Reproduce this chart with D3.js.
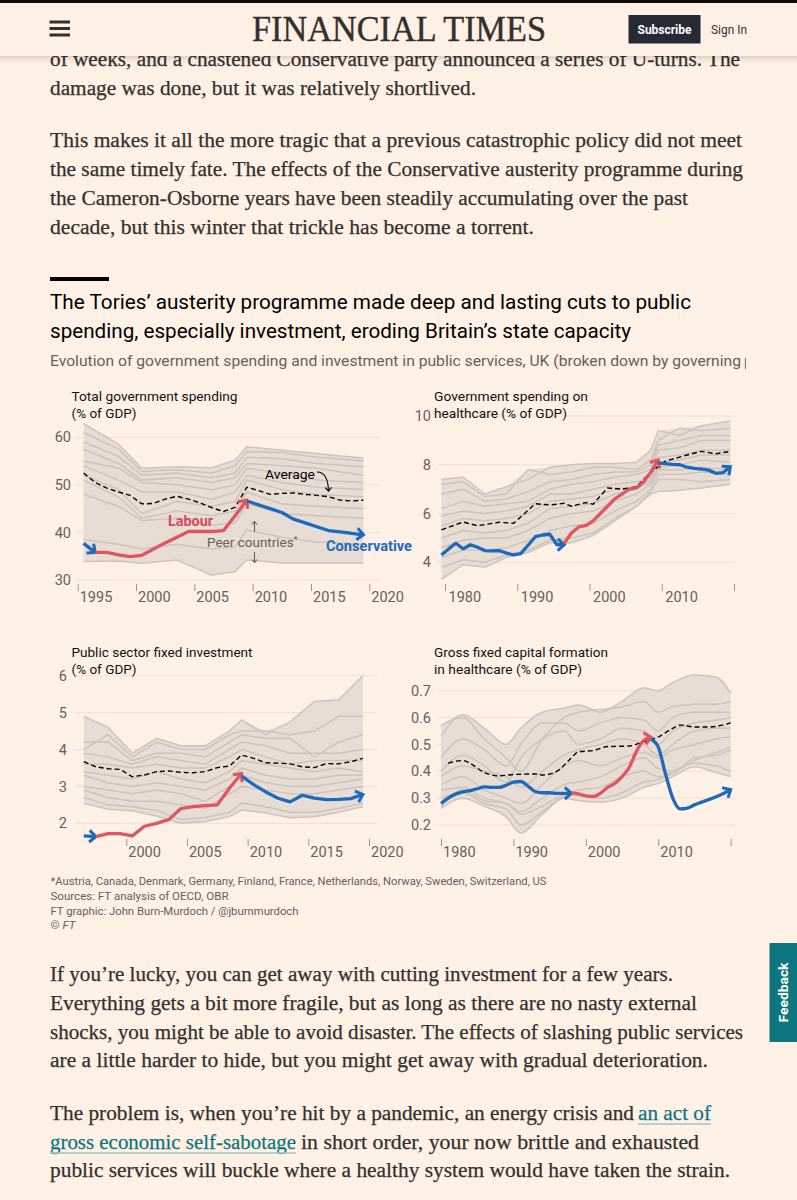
<!DOCTYPE html>
<html><head><meta charset="utf-8">
<script src="https://cdn.jsdelivr.net/npm/d3@7"></script>
<style>html,body{margin:0;padding:0;background:#fff1e5;}svg{display:block}</style>
</head><body>
<svg id="c" width="797" height="1200"></svg>
<script>
// ---------------- DATA ----------------
// Panel 1: Total government spending (% of GDP)
const p1PeerYears = [1995, 1998, 2000, 2003, 2006, 2008, 2009, 2012, 2015, 2019];
const p1Peers = [
  [62.9, 58.5, 53.5, 53.8, 53.6, 55.2, 58.0, 57.3, 56.6, 55.6],
  [61.0, 57.5, 52.8, 53.2, 52.5, 54.0, 57.0, 56.8, 55.8, 55.0],
  [59.0, 56.0, 52.0, 52.5, 51.5, 52.5, 55.8, 55.5, 54.5, 53.8],
  [57.5, 54.5, 51.0, 51.5, 50.5, 51.5, 54.5, 54.0, 53.5, 52.0],
  [55.0, 53.5, 50.5, 50.0, 49.0, 50.0, 53.5, 52.5, 51.0, 50.5],
  [54.0, 51.0, 48.5, 48.5, 47.0, 48.5, 52.0, 50.5, 49.5, 49.0],
  [52.0, 49.0, 44.0, 46.5, 45.5, 46.5, 51.0, 49.0, 48.0, 47.5],
  [51.0, 47.5, 43.0, 44.5, 43.5, 44.5, 48.5, 46.0, 45.5, 45.0],
  [48.0, 45.5, 42.5, 43.0, 41.5, 42.0, 46.0, 44.0, 43.5, 43.0],
  [38.5, 37.5, 36.5, 37.5, 36.5, 37.0, 40.5, 39.0, 38.0, 37.5],
  [33.9, 34.0, 33.5, 34.2, 31.0, 31.8, 34.2, 33.6, 33.6, 33.6]
];
const p1Average = [[1995,52.5],[1996,50.5],[1997,49.3],[1998,48.5],[1999,47.8],[2000,46.0],[2001,46.1],[2002,47.0],[2003,47.6],[2004,47.0],[2005,46.2],[2006,45.2],[2007,44.4],[2008,45.3],[2009,49.5],[2010,48.8],[2011,48.0],[2012,48.2],[2013,48.3],[2014,48.0],[2015,47.8],[2016,47.5],[2017,46.8],[2018,46.6],[2019,46.8]];
const p1ConservativeEarly = [[1995,37.7],[1996,35.8]];
const p1Labour = [[1996,35.8],[1997,35.8],[1998,35.3],[1999,34.9],[2000,35.2],[2001,36.5],[2002,37.8],[2003,39.0],[2004,40.2],[2005,40.2],[2006,40.2],[2007,40.4],[2008,43.5],[2009,46.8]];
const p1ConservativeLate = [[2009,46.6],[2010,45.8],[2011,45.0],[2012,44.2],[2013,42.8],[2014,42.0],[2015,41.2],[2016,40.4],[2017,40.1],[2018,39.8],[2019,39.5]];
const p1YTicks = [30, 40, 50, 60];
const p1XTicks = [1995, 2000, 2005, 2010, 2015, 2020];

// Panel 2: Government spending on healthcare (% of GDP)
const p2PeerYears = [1979, 1982, 1985, 1988, 1991, 1994, 1997, 2000, 2003, 2006, 2008, 2009, 2012, 2015, 2019];
const p2Peers = [
  [7.4, 7.5, 6.8, 7.1, 7.4, 7.9, 8.0, 8.05, 8.05, 8.1, 8.6, 9.4, 9.2, 9.6, 9.8],
  [7.2, 7.3, 6.7, 6.8, 7.8, 7.6, 7.7, 7.9, 7.9, 7.8, 8.2, 9.0, 9.5, 9.4, 9.5],
  [6.8, 7.0, 6.5, 6.6, 6.9, 7.3, 7.4, 7.6, 7.7, 7.7, 8.0, 8.8, 9.0, 9.2, 9.2],
  [6.2, 6.5, 6.3, 6.4, 6.5, 7.0, 7.2, 7.3, 7.5, 7.6, 7.8, 8.6, 8.7, 9.0, 9.0],
  [5.9, 6.1, 6.0, 6.1, 6.3, 6.8, 6.8, 7.0, 7.2, 7.3, 7.5, 8.3, 8.4, 8.6, 8.6],
  [5.5, 5.8, 5.7, 5.8, 6.0, 6.5, 6.6, 6.7, 7.0, 7.1, 7.4, 8.1, 8.2, 8.4, 8.4],
  [5.0, 5.3, 5.2, 5.3, 5.6, 6.2, 6.3, 6.4, 6.8, 7.0, 7.3, 7.9, 8.0, 8.2, 8.1],
  [4.6, 4.9, 5.0, 5.0, 5.3, 5.8, 6.0, 6.1, 6.5, 6.8, 7.2, 7.8, 7.8, 7.9, 7.8],
  [4.2, 4.5, 4.5, 4.6, 4.9, 5.3, 5.5, 5.6, 6.1, 6.5, 7.0, 7.6, 7.6, 7.7, 7.6],
  [3.8, 4.1, 4.0, 4.3, 4.5, 4.9, 5.0, 5.2, 5.8, 6.3, 6.9, 7.4, 7.4, 7.3, 7.4],
  [3.3, 3.9, 3.8, 4.2, 4.4, 4.8, 4.8, 5.1, 5.7, 6.3, 6.8, 6.9, 6.95, 7.05, 7.2]
];
const p2Average = [[1979,5.33],[1982,5.65],[1984,5.5],[1987,5.64],[1989,5.6],[1992,6.4],[1994,6.35],[1996,6.42],[1997,6.3],[1999,6.45],[2000,6.38],[2002,7.05],[2004,7.0],[2006,7.1],[2008,7.7],[2010,8.15],[2013,8.4],[2015,8.55],[2017,8.45],[2019,8.55]];
const p2ConservativeEarly = [[1979,4.3],[1980,4.55],[1981,4.78],[1982,4.55],[1983,4.72],[1984,4.62],[1985,4.48],[1986,4.47],[1987,4.48],[1988,4.38],[1989,4.30],[1990,4.36],[1991,4.70],[1992,5.05],[1993,5.12],[1994,5.15],[1995,4.72],[1996,4.72]];
const p2Labour = [[1996,4.78],[1997,5.2],[1998,5.45],[1999,5.5],[2000,5.7],[2001,6.0],[2002,6.3],[2003,6.6],[2004,6.8],[2005,7.0],[2006,7.05],[2007,7.3],[2008,7.7],[2009,8.2]];
const p2ConservativeLate = [[2009,8.08],[2010,8.05],[2011,8.02],[2012,8.0],[2013,7.9],[2014,7.85],[2015,7.82],[2016,7.78],[2017,7.65],[2018,7.68],[2019,7.92]];
const p2YTicks = [4, 6, 8, 10];
const p2XTicks = [1980, 1990, 2000, 2010, 2020];

// Panel 3: Public sector fixed investment (% of GDP)
const p3PeerYears = [1996, 1998, 2000, 2002, 2004, 2006, 2008, 2009, 2011, 2013, 2015, 2017, 2019];
const p3Peers = [
  [4.9, 4.6, 3.9, 4.3, 4.1, 4.1, 4.5, 4.8, 4.4, 4.75, 5.3, 5.35, 6.0],
  [4.0, 4.4, 3.8, 4.2, 4.0, 4.0, 4.4, 4.5, 4.5, 4.4, 4.5, 4.9, 4.9],
  [4.2, 4.2, 3.7, 3.9, 3.9, 3.8, 4.2, 4.4, 4.3, 4.3, 3.8, 4.2, 4.4],
  [3.9, 3.8, 3.6, 3.8, 3.7, 3.6, 4.0, 4.2, 4.1, 3.9, 3.9, 3.9, 4.0],
  [3.6, 3.6, 3.5, 3.6, 3.5, 3.5, 3.8, 4.0, 3.8, 3.6, 3.7, 3.7, 3.7],
  [3.4, 3.3, 3.2, 3.4, 3.2, 3.1, 3.4, 3.7, 3.6, 3.5, 3.4, 3.5, 3.4],
  [3.3, 3.1, 3.0, 3.1, 3.0, 2.9, 3.2, 3.5, 3.3, 3.2, 3.2, 3.3, 3.3],
  [3.0, 2.9, 2.8, 2.9, 2.8, 2.6, 3.0, 3.3, 3.1, 3.0, 3.0, 3.1, 3.2],
  [2.9, 2.7, 2.6, 2.6, 2.5, 2.4, 2.8, 3.0, 2.9, 2.8, 2.8, 2.9, 3.0],
  [2.7, 2.5, 2.45, 2.35, 2.1, 2.15, 2.3, 2.55, 2.45, 2.3, 2.3, 2.4, 2.55],
  [2.54, 2.38, 2.34, 2.2, 2.0, 2.05, 2.18, 2.36, 2.28, 2.15, 2.18, 2.3, 2.45]
];
const p3Average = [[1996,3.67],[1997,3.53],[1998,3.48],[1999,3.46],[2000,3.26],[2001,3.31],[2002,3.4],[2003,3.42],[2004,3.38],[2005,3.37],[2006,3.4],[2007,3.51],[2008,3.55],[2009,3.85],[2010,3.76],[2011,3.64],[2012,3.63],[2013,3.61],[2014,3.53],[2015,3.51],[2016,3.62],[2017,3.61],[2018,3.67],[2019,3.76]];
const p3ConservativeEarly = [[1996,1.66],[1997,1.64]];
const p3Labour = [[1997,1.64],[1998,1.72],[1999,1.72],[2000,1.66],[2001,1.92],[2002,2.0],[2003,2.1],[2004,2.4],[2005,2.45],[2006,2.48],[2007,2.5],[2008,2.95],[2009,3.35]];
const p3ConservativeLate = [[2009,3.28],[2010,3.05],[2011,2.85],[2012,2.68],[2013,2.58],[2014,2.76],[2015,2.68],[2016,2.64],[2017,2.65],[2018,2.67],[2019,2.78]];
const p3YTicks = [2, 3, 4, 5, 6];
const p3XTicks = [2000, 2005, 2010, 2015, 2020];

// Panel 4: Gross fixed capital formation in healthcare (% of GDP)
const p4PeerYears = [1980, 1983, 1986, 1989, 1991, 1994, 1997, 1999, 2002, 2005, 2008, 2010, 2012, 2015, 2018, 2020];
const p4Peers = [
  [0.53, 0.61, 0.56, 0.50, 0.56, 0.62, 0.635, 0.647, 0.62, 0.66, 0.71, 0.70, 0.73, 0.758, 0.75, 0.69],
  [0.57, 0.60, 0.52, 0.45, 0.40, 0.52, 0.60, 0.62, 0.63, 0.64, 0.66, 0.62, 0.64, 0.65, 0.65, 0.66],
  [0.45, 0.52, 0.48, 0.42, 0.50, 0.58, 0.58, 0.55, 0.58, 0.60, 0.59, 0.55, 0.60, 0.62, 0.62, 0.62],
  [0.40, 0.46, 0.42, 0.36, 0.45, 0.52, 0.55, 0.50, 0.52, 0.56, 0.55, 0.50, 0.55, 0.58, 0.59, 0.60],
  [0.38, 0.42, 0.40, 0.38, 0.34, 0.40, 0.46, 0.48, 0.50, 0.52, 0.50, 0.46, 0.50, 0.55, 0.56, 0.56],
  [0.35, 0.38, 0.33, 0.30, 0.28, 0.35, 0.42, 0.44, 0.42, 0.45, 0.47, 0.45, 0.48, 0.50, 0.52, 0.53],
  [0.33, 0.34, 0.30, 0.28, 0.25, 0.30, 0.35, 0.36, 0.38, 0.42, 0.45, 0.41, 0.40, 0.44, 0.47, 0.49],
  [0.30, 0.32, 0.28, 0.26, 0.20, 0.25, 0.31, 0.33, 0.34, 0.38, 0.40, 0.38, 0.39, 0.45, 0.46, 0.48],
  [0.262, 0.30, 0.27, 0.23, 0.17, 0.24, 0.30, 0.29, 0.285, 0.30, 0.34, 0.355, 0.38, 0.417, 0.395, 0.38],
  [0.27, 0.33, 0.29, 0.28, 0.24, 0.27, 0.31, 0.31, 0.30, 0.32, 0.36, 0.37, 0.40, 0.43, 0.42, 0.40]
];
const p4Average = [[1981,0.43],[1983,0.44],[1984,0.43],[1986,0.395],[1988,0.383],[1990,0.388],[1993,0.39],[1994,0.386],[1996,0.4],[1998,0.45],[1999,0.473],[2001,0.477],[2003,0.492],[2006,0.494],[2008,0.51],[2009,0.518],[2010,0.528],[2012,0.56],[2013,0.572],[2015,0.565],[2017,0.565],[2020,0.58]];
const p4ConservativeEarly = [[1980,0.28],[1981,0.30],[1982,0.315],[1983,0.323],[1984,0.328],[1985,0.335],[1986,0.342],[1987,0.34],[1988,0.34],[1989,0.348],[1990,0.36],[1991,0.362],[1992,0.345],[1993,0.325],[1994,0.32],[1995,0.32],[1996,0.318],[1997,0.318],[1998,0.318]];
const p4Labour = [[1998,0.32],[1999,0.316],[2000,0.308],[2001,0.306],[2002,0.318],[2003,0.34],[2004,0.355],[2005,0.38],[2006,0.415],[2007,0.475],[2008,0.515],[2009,0.527]];
const p4ConservativeLate = [[2009,0.52],[2010,0.49],[2011,0.39],[2012,0.30],[2013,0.26],[2014,0.263],[2015,0.275],[2016,0.285],[2017,0.295],[2018,0.305],[2019,0.317],[2020,0.332]];
const p4YTicks = [0.2, 0.3, 0.4, 0.5, 0.6, 0.7];
const p4XTicks = [1980, 1990, 2000, 2010, 2020];

// ---------------- STYLE ----------------
const FONT = "Roboto, 'Noto Sans', sans-serif";
const SERIF = "'Liberation Serif', 'DejaVu Serif', serif";
const BG = '#fff1e5', INK = '#33302e', GREY = '#66605c', BLUE = '#1f69bd', RED = '#e0565e';
const BAND = '#e8ddd4', PEER = '#cdc4bc', GRID = '#eee0d4';

const svg = d3.select('#c');
const defs = svg.append('defs');
const f = defs.append('filter').attr('id', 'sh').attr('x', '-5%').attr('y', '-50%').attr('width', '110%').attr('height', '200%');
f.append('feDropShadow').attr('dx', 0).attr('dy', 2).attr('stdDeviation', 3).attr('flood-color', '#000').attr('flood-opacity', 0.18);

function addMarker(id, color, size, sw) {
  defs.append('marker').attr('id', id).attr('viewBox', '-12 -12 24 24')
    .attr('refX', 0).attr('refY', 0).attr('markerWidth', 24).attr('markerHeight', 24)
    .attr('markerUnits', 'userSpaceOnUse').attr('orient', 'auto')
    .append('path').attr('d', `M${-size},${-size * 0.9} L0,0 L${-size},${size * 0.9}`)
    .attr('fill', 'none').attr('stroke', color).attr('stroke-width', sw)
    .attr('stroke-linejoin', 'miter').attr('stroke-linecap', 'butt');
}
addMarker('ab', BLUE, 6.5, 3);
addMarker('ar', RED, 6.5, 3);
addMarker('ak', '#000', 3.5, 1.2);
addMarker('ag', GREY, 3, 1.1);

svg.append('rect').attr('width', 797).attr('height', 1200).attr('fill', BG);

function txt(parent, x, y, s, o = {}) {
  const t = parent.append('text').attr('x', x).attr('y', y).text(s)
    .attr('font-family', o.family || FONT).attr('font-size', o.size || 13)
    .attr('fill', o.fill || INK).attr('font-weight', o.weight || 'normal');
  if (o.anchor) t.attr('text-anchor', o.anchor);
  if (o.len) t.attr('textLength', o.len).attr('lengthAdjust', 'spacingAndGlyphs');
  if (o.style) t.attr('font-style', o.style);
  if (o.stroke) t.attr('stroke', o.fill || INK).attr('stroke-width', o.stroke);
  return t;
}
const BODY = 20.5;
const BSTROKE = 0.25;

// ---------------- BODY TEXT (top) ----------------
const topLines = [
  ["of weeks, and a chastened Conservative party announced a series of U-turns. The", 66, 690],
  ["damage was done, but it was relatively shortlived.", 95, 426],
  ["This makes it all the more tragic that a previous catastrophic policy did not meet", 147, 692],
  ["the same timely fate. The effects of the Conservative austerity programme during", 176, 693],
  ["the Cameron-Osborne years have been steadily accumulating over the past", 205, 638],
  ["decade, but this winter that trickle has become a torrent.", 234, 484]
];
topLines.forEach(([s, y, w]) => txt(svg, 50, y, s, {family: SERIF, size: BODY, len: w, stroke: BSTROKE}));

// ---------------- HEADER ----------------
const hdr = svg.append('g');
hdr.append('rect').attr('x', -10).attr('y', 0).attr('width', 817).attr('height', 56).attr('fill', BG).attr('filter', 'url(#sh)');
hdr.append('rect').attr('x', 0).attr('y', 0).attr('width', 797).attr('height', 3).attr('fill', '#0d0d0d');
[20.5, 27, 33.5].forEach(y => hdr.append('rect').attr('x', 49.5).attr('y', y).attr('width', 20.5).attr('height', 3).attr('fill', INK));
txt(hdr, 252, 41, 'FINANCIAL TIMES', {family: SERIF, size: 35, len: 294, fill: '#33302e', stroke: 0.4});
hdr.append('rect').attr('x', 628.5).attr('y', 15).attr('width', 72).attr('height', 28.5).attr('fill', '#262a33');
txt(hdr, 664.5, 34.3, 'Subscribe', {size: 13, weight: 'bold', fill: '#fff', anchor: 'middle', len: 54});
txt(hdr, 711, 34.3, 'Sign In', {size: 13, fill: INK, len: 36});

// ---------------- CHART HEADER ----------------
svg.append('rect').attr('x', 50).attr('y', 277).attr('width', 59).attr('height', 4).attr('fill', '#000');
txt(svg, 50, 309, 'The Tories\u2019 austerity programme made deep and lasting cuts to public', {size: 21, fill: '#000', len: 641});
txt(svg, 50, 338, 'spending, especially investment, eroding Britain\u2019s state capacity', {size: 21, fill: '#000', len: 581});
txt(svg, 50, 366, 'Evolution of government spending and investment in public services, UK (broken down by governing', {size: 15.5, fill: GREY, len: 691});
defs.append('clipPath').attr('id', 'subclip').append('rect').attr('x', 740).attr('y', 340).attr('width', 6).attr('height', 40);
txt(svg, 744, 366, 'p', {size: 15.5, fill: GREY}).attr('clip-path', 'url(#subclip)');

// ---------------- PANELS ----------------
function drawPanel(cfg) {
  const x = d3.scaleLinear().domain(cfg.xDomain).range(cfg.xRange);
  const y = d3.scaleLinear().domain(cfg.yDomain).range(cfg.yRange);
  const px = yr => x(yr + cfg.offset);
  const curve = cfg.smooth ? d3.curveMonotoneX : d3.curveLinear;
  const g = svg.append('g');

  g.append('g').selectAll('line').data(cfg.yTicks).join('line')
    .attr('x1', cfg.gridX[0]).attr('x2', cfg.gridX[1])
    .attr('y1', d => y(d)).attr('y2', d => y(d))
    .attr('stroke', GRID).attr('stroke-width', 1);

  txt(g, cfg.titleX, cfg.titleY, cfg.title[0], {size: 13.5, fill: '#111', len: cfg.titleLen[0]});
  txt(g, cfg.titleX, cfg.titleY + 17, cfg.title[1], {size: 13.5, fill: '#111', len: cfg.titleLen[1]});

  const ya = g.append('g').attr('transform', `translate(${cfg.yLabelX},0)`)
    .call(d3.axisLeft(y).tickValues(cfg.yTicks).tickSize(0).tickPadding(0).tickFormat(cfg.yFmt));
  ya.select('.domain').remove();
  ya.attr('font-family', FONT).attr('font-size', 14.5);
  ya.selectAll('text').attr('fill', GREY);

  const xa = g.append('g').attr('transform', `translate(0,${cfg.tickTop})`)
    .call(d3.axisBottom(x).tickValues(cfg.xTicks).tickSize(7).tickFormat(d => cfg.xLabelled(d) ? String(d) : ''));
  xa.select('.domain').remove();
  xa.attr('font-family', FONT).attr('font-size', 14.5);
  xa.selectAll('line').attr('stroke', '#9b938c').attr('stroke-width', 1);
  xa.selectAll('text').attr('fill', GREY).attr('text-anchor', 'start').attr('x', cfg.labelDx).attr('y', 8);

  const band = cfg.peerYears.map((yr, i) => ({yr, lo: d3.min(cfg.peers, p => p[i]), hi: d3.max(cfg.peers, p => p[i])}));
  g.append('path').datum(band)
    .attr('d', d3.area().x(d => px(d.yr)).y0(d => y(d.lo)).y1(d => y(d.hi)).curve(curve))
    .attr('fill', BAND);
  const pl = d3.line().x((d, i) => px(cfg.peerYears[i])).y(d => y(d)).curve(curve);
  g.append('g').selectAll('path').data(cfg.peers).join('path')
    .attr('d', pl).attr('fill', 'none').attr('stroke', PEER).attr('stroke-width', 1.5);

  const ln = d3.line().x(d => px(d[0])).y(d => y(d[1])).curve(curve);
  g.append('path').datum(cfg.average).attr('d', ln)
    .attr('fill', 'none').attr('stroke', '#000').attr('stroke-width', 1.4).attr('stroke-dasharray', '5,3');

  cfg.segments.forEach(([data, color, mk]) => {
    g.append('path').datum(data).attr('d', ln)
      .attr('fill', 'none').attr('stroke', color).attr('stroke-width', 3.3)
      .attr('stroke-linejoin', 'round').attr('stroke-linecap', 'butt')
      .attr('marker-end', `url(#${mk})`);
  });
  return {g, x, y};
}

const P1 = drawPanel({
  xDomain: [1995, 2020], xRange: [77.7, 369.3], yDomain: [30, 60], yRange: [580, 437.3], offset: 0.5,
  gridX: [75, 380], yLabelX: 71, tickTop: 584, labelDx: 1.5, yTicks: p1YTicks, yFmt: d3.format('d'),
  xTicks: p1XTicks, xLabelled: d => true,
  title: ['Total government spending', '(% of GDP)'], titleLen: [166, 65], titleX: 71.5, titleY: 401,
  peerYears: p1PeerYears, peers: p1Peers, average: p1Average,
  segments: [[p1ConservativeEarly, BLUE, 'ab'], [p1Labour, RED, 'ar'], [p1ConservativeLate, BLUE, 'ab']]
});
const P2 = drawPanel({
  xDomain: [1980, 2020], xRange: [445, 734], yDomain: [4, 10], yRange: [562.3, 416], offset: 0.5,
  gridX: [438, 735], yLabelX: 431, tickTop: 584, labelDx: 3, yTicks: p2YTicks, yFmt: d3.format('d'),
  xTicks: p2XTicks, xLabelled: d => d < 2020,
  title: ['Government spending on', 'healthcare (% of GDP)'], titleLen: [154, 133], titleX: 434, titleY: 401,
  peerYears: p2PeerYears, peers: p2Peers, average: p2Average,
  segments: [[p2ConservativeEarly, BLUE, 'ab'], [p2Labour, RED, 'ar'], [p2ConservativeLate, BLUE, 'ab']]
});
const P3 = drawPanel({
  xDomain: [1996, 2020], xRange: [77.7, 369], yDomain: [2, 6], yRange: [823.3, 675.7], offset: 0.5,
  gridX: [75, 377], yLabelX: 67, tickTop: 839, labelDx: 1.5, yTicks: p3YTicks, yFmt: d3.format('d'),
  xTicks: p3XTicks, xLabelled: d => true,
  title: ['Public sector fixed investment', '(% of GDP)'], titleLen: [181, 65], titleX: 71.5, titleY: 657,
  peerYears: p3PeerYears, peers: p3Peers, average: p3Average,
  segments: [[p3ConservativeEarly, BLUE, 'ab'], [p3Labour, RED, 'ar'], [p3ConservativeLate, BLUE, 'ab']]
});
const P4 = drawPanel({
  xDomain: [1980, 2020], xRange: [441, 730.7], yDomain: [0.2, 0.7], yRange: [825, 690.7], offset: 0, smooth: true,
  gridX: [438, 735], yLabelX: 431, tickTop: 839, labelDx: 1.5, yTicks: p4YTicks, yFmt: d3.format('.1f'),
  xTicks: p4XTicks, xLabelled: d => d < 2020,
  title: ['Gross fixed capital formation', 'in healthcare (% of GDP)'], titleLen: [174, 148], titleX: 434, titleY: 657,
  peerYears: p4PeerYears, peers: p4Peers, average: p4Average,
  segments: [[p4ConservativeEarly, BLUE, 'ab'], [p4Labour, RED, 'ar'], [p4ConservativeLate, BLUE, 'ab']]
});

// Panel 1 annotations
const a = P1.g;
txt(a, 168, 526, 'Labour', {size: 15, weight: 'bold', fill: '#d24c5a', len: 45});
txt(a, 326, 551, 'Conservative', {size: 15, weight: 'bold', fill: BLUE, len: 86});
txt(a, 265, 479, 'Average', {size: 13.5, fill: '#000', len: 50});
a.append('path').attr('d', 'M317,472 Q328,472 328.5,491').attr('fill', 'none').attr('stroke', '#000').attr('stroke-width', 1.1).attr('marker-end', 'url(#ak)');
const pc = txt(a, 207, 547, 'Peer countries', {size: 13.5, fill: GREY});
pc.append('tspan').attr('font-size', 9).attr('dy', -4).text('*');
a.append('line').attr('x1', 254.5).attr('x2', 254.5).attr('y1', 532).attr('y2', 521.5).attr('stroke', GREY).attr('stroke-width', 1.1).attr('marker-end', 'url(#ag)');
a.append('line').attr('x1', 254.5).attr('x2', 254.5).attr('y1', 552).attr('y2', 562.5).attr('stroke', GREY).attr('stroke-width', 1.1).attr('marker-end', 'url(#ag)');

// ---------------- FOOTNOTES ----------------
txt(svg, 50.5, 885, '*Austria, Canada, Denmark, Germany, Finland, France, Netherlands, Norway, Sweden, Switzerland, US', {size: 11.5, fill: GREY, len: 496});
txt(svg, 50.5, 899.5, 'Sources: FT analysis of OECD, OBR', {size: 11.5, fill: GREY, len: 178});
txt(svg, 50.5, 914.5, 'FT graphic: John Burn-Murdoch / @jburnmurdoch', {size: 11.5, fill: GREY, len: 248});
const cp = txt(svg, 50.5, 929, '\u00A9 ', {size: 11.5, fill: GREY});
cp.append('tspan').attr('font-style', 'italic').text('FT');

// ---------------- BODY TEXT (bottom) ----------------
const LINK = '#0d7680';
const bottomLines = [
  ["If you\u2019re lucky, you can get away with cutting investment for a few years.", 981, 623],
  ["Everything gets a bit more fragile, but as long as there are no nasty external", 1010, 647],
  ["shocks, you might be able to avoid disaster. The effects of slashing public services", 1038.5, 693],
  ["are a little harder to hide, but you might get away with gradual deterioration.", 1067, 658],
  ["public services will buckle where a healthy system would have taken the strain.", 1177, 680]
];
bottomLines.forEach(([s, y, w]) => txt(svg, 50, y, s, {family: SERIF, size: BODY, len: w, stroke: BSTROKE}));
txt(svg, 50, 1119.5, 'The problem is, when you\u2019re hit by a pandemic, an energy crisis and', {family: SERIF, size: BODY, len: 584, stroke: BSTROKE});
txt(svg, 638, 1119.5, 'an act of', {family: SERIF, size: BODY, len: 73, fill: LINK, stroke: BSTROKE});
svg.append('line').attr('x1', 638).attr('x2', 711).attr('y1', 1124).attr('y2', 1124).attr('stroke', '#9fc5c6').attr('stroke-width', 1.5);
txt(svg, 50, 1148.5, 'gross economic self-sabotage', {family: SERIF, size: BODY, len: 246, fill: LINK, stroke: BSTROKE});
svg.append('line').attr('x1', 50).attr('x2', 296).attr('y1', 1153).attr('y2', 1153).attr('stroke', '#9fc5c6').attr('stroke-width', 1.5);
txt(svg, 301, 1148.5, 'in short order, your now brittle and exhausted', {family: SERIF, size: BODY, len: 398, stroke: BSTROKE});

// ---------------- FEEDBACK TAB ----------------
svg.append('rect').attr('x', 769.5).attr('y', 943).attr('width', 28).attr('height', 99).attr('fill', '#0d7680');
txt(svg, 0, 0, 'Feedback', {size: 13, weight: 'bold', fill: '#fff', anchor: 'middle', len: 60})
  .attr('transform', 'translate(788,992.5) rotate(-90)');
</script>
</body></html>
